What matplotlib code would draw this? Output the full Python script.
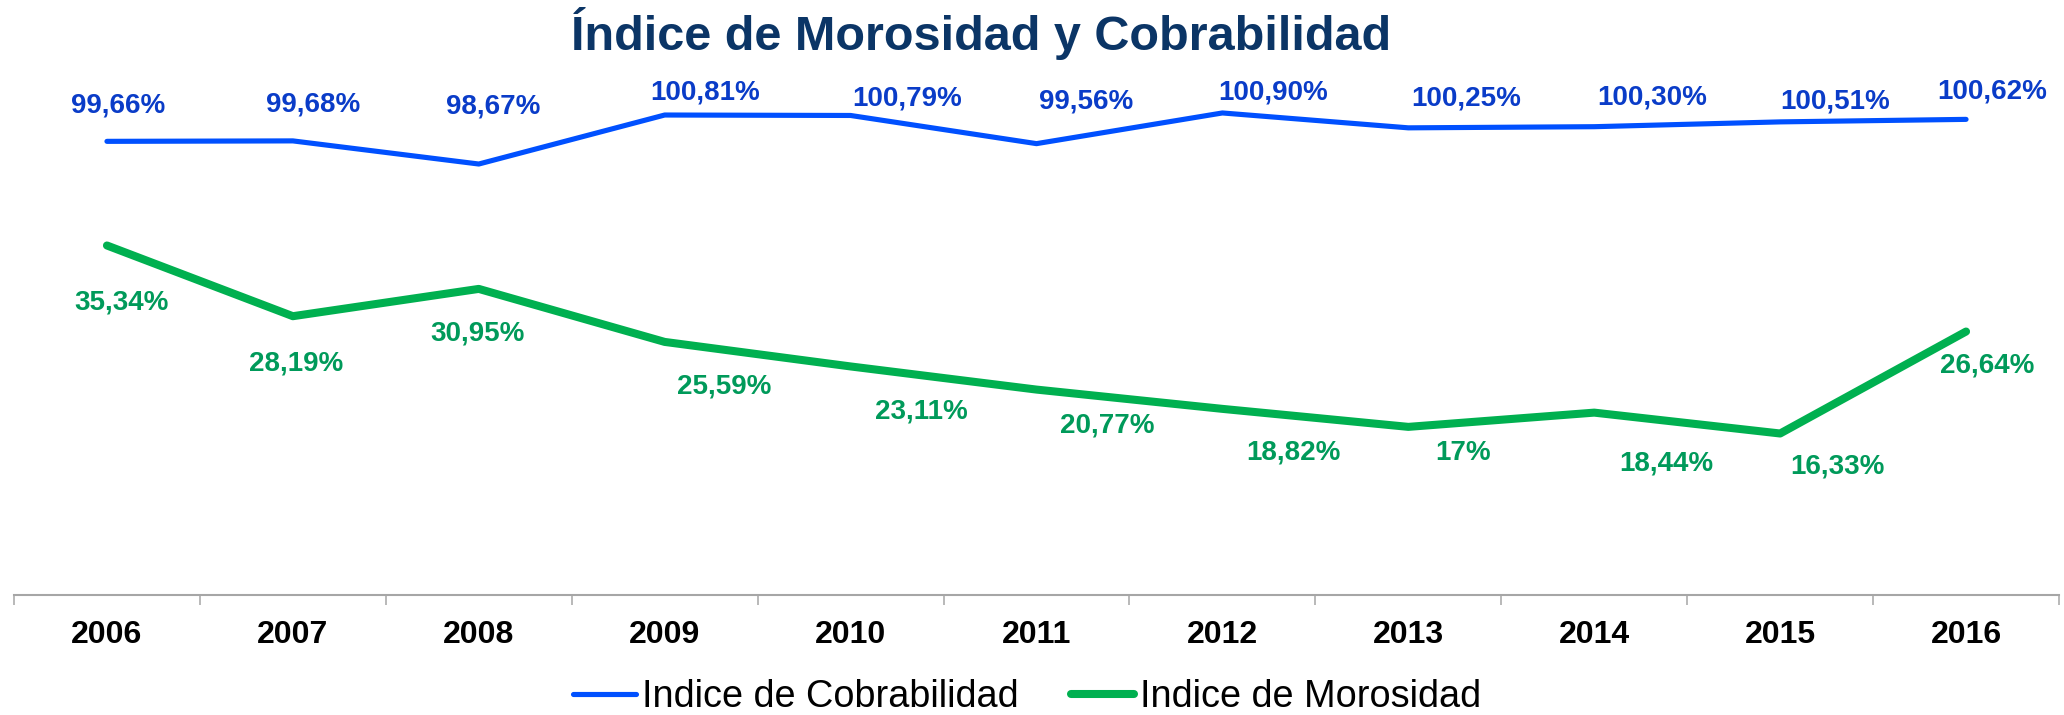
import matplotlib
matplotlib.use("Agg")
import matplotlib.pyplot as plt

years = ["2006", "2007", "2008", "2009", "2010", "2011", "2012", "2013", "2014", "2015", "2016"]
cobrabilidad = [99.66, 99.68, 98.67, 100.81, 100.79, 99.56, 100.90, 100.25, 100.30, 100.51, 100.62]
morosidad = [35.34, 28.19, 30.95, 25.59, 23.11, 20.77, 18.82, 17.00, 18.44, 16.33, 26.64]
cobra_labels = ["99,66%", "99,68%", "98,67%", "100,81%", "100,79%", "99,56%",
                "100,90%", "100,25%", "100,30%", "100,51%", "100,62%"]
moro_labels = ["35,34%", "28,19%", "30,95%", "25,59%", "23,11%", "20,77%",
               "18,82%", "17%", "18,44%", "16,33%", "26,64%"]

# label offsets in pixels (layout only)
cobra_off = [(11, 36), (20, 36), (14, 58), (40, 23), (57, 17), (50, 42),
             (51, 20), (58, 29), (58, 29), (55, 20), (26, 28)]
moro_off = [(15, -57), (3, -47), (-1, -45), (60, -45), (71, -45), (71, -36),
            (71, -44), (55, -26), (72, -51), (57, -33), (21, -34)]

W, H = 2064, 715
fig = plt.figure(figsize=(W / 100, H / 100), dpi=100)
plt.rcParams['font.family'] = ['Liberation Sans', 'DejaVu Sans']

left = 14 / W
right = 2059 / W
bottom = (H - 595) / H
top = (H - 95) / H
ax = fig.add_axes([left, bottom, right - left, top - bottom])
ax2 = ax.twinx()

x = list(range(len(years)))
blue_line = "#0050FF"
blue_text = "#0A3CC8"
green_line = "#00B050"
green_text = "#009A5A"

l2, = ax.plot(x, morosidad, color=green_line, lw=5.8, solid_capstyle='round',
              solid_joinstyle='round', clip_on=False, label="Indice de Morosidad")
l1, = ax2.plot(x, cobrabilidad, color=blue_line, lw=3.7, solid_capstyle='round',
               solid_joinstyle='round', clip_on=False, label="Indice de Cobrabilidad")

ax.set_xlim(-0.5, len(years) - 0.5)
ax.set_ylim(0, 500 / 9.89)
ax2.set_ylim(79.85, 79.85 + 500 / 22.9)

for xi, v, t, off in zip(x, morosidad, moro_labels, moro_off):
    ax.annotate(t, (xi, v), xytext=off, textcoords='offset pixels',
                ha='center', va='center', fontsize=20, fontweight='bold',
                color=green_text, annotation_clip=False)
for xi, v, t, off in zip(x, cobrabilidad, cobra_labels, cobra_off):
    ax2.annotate(t, (xi, v), xytext=off, textcoords='offset pixels',
                 ha='center', va='center', fontsize=20, fontweight='bold',
                 color=blue_text, annotation_clip=False)

for a in (ax, ax2):
    for s in ("top", "left", "right"):
        a.spines[s].set_visible(False)
    a.set_yticks([])
ax2.spines["bottom"].set_visible(False)
ax.spines["bottom"].set_color("#A6A6A6")
ax.spines["bottom"].set_linewidth(1.5)

# boundary ticks (major) and labels at centers (minor)
ax.set_xticks([i - 0.5 for i in range(len(years) + 1)])
ax.set_xticklabels([])
ax.tick_params(axis='x', which='major', length=7, width=1.1, color="#A6A6A6")
ax.set_xticks(x, minor=True)
ax.set_xticklabels(years, minor=True, fontsize=23, fontweight='bold', color='black')
ax.tick_params(axis='x', which='minor', length=0, pad=18)

fig.text(981 / W, 1 - 34 / H, "Índice de Morosidad y Cobrabilidad",
         ha='center', va='center', fontsize=35, fontweight='bold', color="#0B3566")

fig.legend(handles=[l1, l2], loc='center', bbox_to_anchor=(1027 / W, 1 - 697 / H),
           ncol=2, frameon=False, fontsize=27.3, handlelength=1.65,
           handletextpad=0.15, columnspacing=1.4)

fig.savefig("out.png", dpi=100)
